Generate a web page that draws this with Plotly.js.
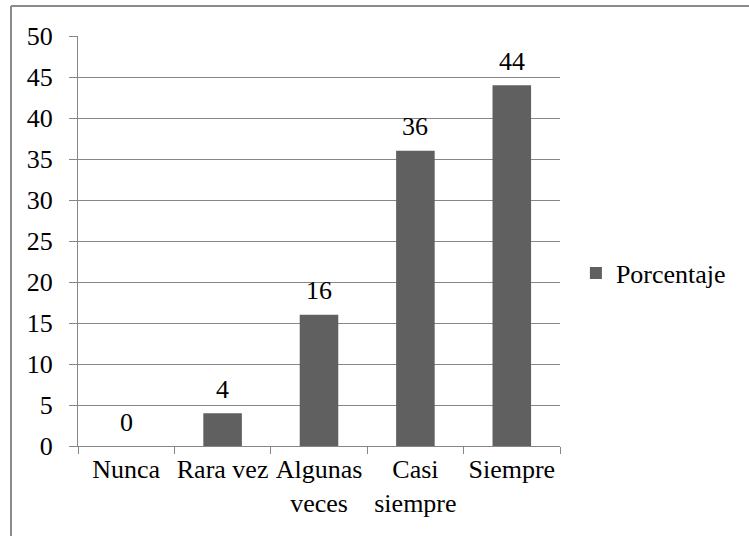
<!DOCTYPE html>
<html>
<head>
<meta charset="utf-8">
<script src="https://cdn.plot.ly/plotly-3.0.1.min.js"></script>
<style>html,body{margin:0;padding:0;background:#fff;}#chart{width:749px;height:536px;}</style>
</head>
<body>
<div id="chart"></div>
<script>
const categories = ["Nunca", "Rara vez", "Algunas<br>veces", "Casi<br>siempre", "Siempre"];
const porcentaje = [0, 4, 16, 36, 44];
const seriesName = "Porcentaje";
const yTicks = [0, 5, 10, 15, 20, 25, 30, 35, 40, 45, 50];

const FONT = "'Liberation Serif', 'Times New Roman', serif";
const FS = 26;
const GRID = "#868686";

const annotations = categories.map((c, i) => ({
  x: c, y: porcentaje[i], xref: "x", yref: "y",
  text: String(porcentaje[i]), showarrow: false,
  yanchor: "middle", yshift: 24,
  font: {family: FONT, size: FS, color: "#000"}
}));

const trace = {
  type: "bar", x: categories, y: porcentaje, name: seriesName,
  marker: {color: "#606060"}, showlegend: true
};

const layout = {
  width: 749, height: 536,
  margin: {l: 78, r: 189, t: 36, b: 90, pad: 0},
  paper_bgcolor: "#fff", plot_bgcolor: "#fff",
  font: {family: FONT, size: FS, color: "#000"},
  bargap: 0.6,
  xaxis: {
    type: "category", showgrid: false, zeroline: false,
    showline: true, linecolor: GRID, linewidth: 1,
    ticks: "outside", tickson: "boundaries", ticklen: 7, tickcolor: GRID,
    tickfont: {family: FONT, size: FS, color: "#000"},
    tickangle: 0, fixedrange: true
  },
  yaxis: {
    range: [0, 50], tickvals: yTicks, ticktext: yTicks.map(String),
    showgrid: true, gridcolor: GRID, gridwidth: 1, zeroline: false,
    showline: true, linecolor: GRID, linewidth: 1,
    ticks: "outside", ticklen: 8, tickcolor: GRID,
    ticklabelstandoff: 11,
    tickfont: {family: FONT, size: FS, color: "#000"}, fixedrange: true
  },
  legend: {
    x: 1.033, xanchor: "left", y: 0.422, yanchor: "middle",
    font: {family: FONT, size: FS, color: "#000"},
    bgcolor: "rgba(0,0,0,0)", itemwidth: 30
  },
  annotations: annotations,
  shapes: [
    {type: "line", xref: "paper", yref: "paper", x0: -0.139, x1: -0.139, y0: 1.073, y1: -0.5, line: {color: "#8a8a8a", width: 2}},
    {type: "line", xref: "paper", yref: "paper", x0: -0.139, x1: 2, y0: 1.073, y1: 1.073, line: {color: "#8a8a8a", width: 2}}
  ]
};

Plotly.newPlot("chart", [trace], layout, {displayModeBar: false, staticPlot: true});
</script>
</body>
</html>
